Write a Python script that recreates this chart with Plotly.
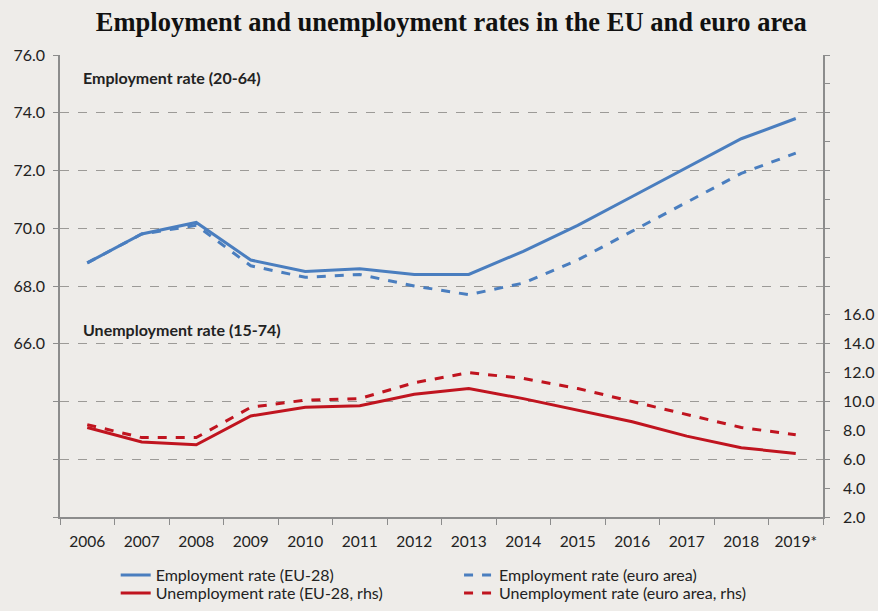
import plotly.graph_objects as go

years = ["2006", "2007", "2008", "2009", "2010", "2011", "2012", "2013",
         "2014", "2015", "2016", "2017", "2018", "2019*"]
emp_eu28 = [68.8, 69.8, 70.2, 68.9, 68.5, 68.6, 68.4, 68.4, 69.2, 70.1, 71.1, 72.1, 73.1, 73.8]
emp_ea = [68.8, 69.8, 70.1, 68.7, 68.3, 68.4, 68.0, 67.7, 68.1, 68.9, 69.9, 70.9, 71.9, 72.6]
unemp_eu28 = [8.2, 7.2, 7.0, 9.0, 9.6, 9.7, 10.5, 10.9, 10.2, 9.4, 8.6, 7.6, 6.8, 6.4]
unemp_ea = [8.4, 7.5, 7.5, 9.6, 10.1, 10.2, 11.3, 12.0, 11.6, 10.9, 10.0, 9.1, 8.2, 7.7]

left_ticks = [60, 62, 64, 66, 68, 70, 72, 74, 76]
left_labels = ["", "", "", "66.0", "68.0", "70.0", "72.0", "74.0", "76.0"]
right_ticks = list(range(2, 35, 2))
right_labels = [f"{v:.1f}" if v <= 16 else "" for v in right_ticks]

BLUE = "#4a7ebf"
RED = "#c0141f"
BG = "#eeece9"
AX = "#8c8c8c"
FONT = "Lato"

fig = go.Figure()
fig.add_trace(go.Scatter(x=years, y=emp_eu28, name="Employment rate (EU-28)", mode="lines",
                         line=dict(color=BLUE, width=3), legend="legend"))
fig.add_trace(go.Scatter(x=years, y=emp_ea, name="Employment rate (euro area)", mode="lines",
                         line=dict(color=BLUE, width=3, dash="dash"), legend="legend2"))
fig.add_trace(go.Scatter(x=years, y=unemp_eu28, name="Unemployment rate (EU-28, rhs)", mode="lines",
                         line=dict(color=RED, width=3), yaxis="y2", legend="legend3"))
fig.add_trace(go.Scatter(x=years, y=unemp_ea, name="Unemployment rate (euro area, rhs)", mode="lines",
                         line=dict(color=RED, width=3, dash="dash"), yaxis="y2", legend="legend4"))

def leg(x, y):
    return dict(orientation="v", x=x, xanchor="left", y=y, yanchor="middle",
                bgcolor="rgba(0,0,0,0)", font=dict(family=FONT, size=16, color="#222"))

fig.update_layout(
    width=878, height=611,
    paper_bgcolor=BG, plot_bgcolor=BG,
    margin=dict(l=60, r=55, t=55, b=94, autoexpand=False),
    font=dict(family=FONT, size=15, color="#222"),
    title=dict(text="<b>Employment and unemployment rates in the EU and euro area</b>",
               font=dict(family="Liberation Serif", size=26.5, color="#111"),
               x=0.514, xanchor="center", y=0.964, yanchor="middle"),
    xaxis=dict(type="category", tickson="boundaries", ticks="outside", ticklen=6,
               tickcolor=AX, showline=True, linecolor=AX, linewidth=1.5,
               showgrid=False, range=[-0.5, 13.5], tickfont=dict(size=15.5),
               ticklabelstandoff=10),
    yaxis=dict(range=[60, 76], tickvals=left_ticks, ticktext=left_labels,
               showgrid=True, gridcolor="#9c9a97", griddash="dash", gridwidth=1,
               showline=True, linecolor=AX, linewidth=1.5, ticks="outside",
               ticklen=5, tickcolor=AX, zeroline=False, tickfont=dict(size=16),
               ticklabelstandoff=5),
    yaxis2=dict(range=[2, 34], tickvals=right_ticks, ticktext=right_labels, overlaying="y",
                side="right", showgrid=False, showline=True, linecolor=AX, linewidth=1.5,
                ticks="outside", ticklen=5, tickcolor=AX, zeroline=False,
                tickfont=dict(size=16), ticklabelstandoff=10),
    legend=leg(0.073, -0.1255),
    legend2=leg(0.523, -0.1255),
    legend3=leg(0.073, -0.1645),
    legend4=leg(0.523, -0.1645),
    showlegend=True,
    annotations=[
        dict(text="<b>Employment rate (20-64)</b>", xref="paper", yref="paper",
             x=0.028, y=0.952, xanchor="left", yanchor="middle", showarrow=False,
             font=dict(size=16)),
        dict(text="<b>Unemployment rate (15-74)</b>", xref="paper", yref="paper",
             x=0.028, y=0.405, xanchor="left", yanchor="middle", showarrow=False,
             font=dict(size=16)),
    ],
)

fig.write_html(
    "out.html",
    config={"displayModeBar": False},
    post_script="document.body.style.margin='0';document.body.style.background='#eeece9';",
)
